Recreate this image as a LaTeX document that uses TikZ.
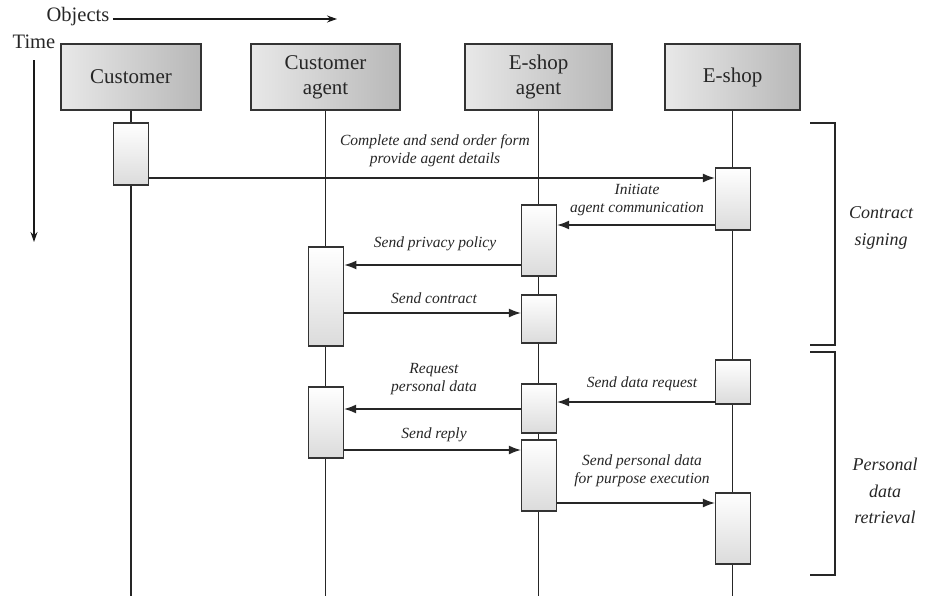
\documentclass[tikz,border=0pt]{standalone}
\usepackage{fontspec}
\setmainfont{Liberation Serif}
\usetikzlibrary{arrows.meta}
\tikzset{
    objbox/.style={
        draw=black!80,
        line width=1.2pt,
        left color=black!9,
        right color=black!28,
        minimum height=66pt,
        align=center,
        text=black!85,
        font=\fontsize{21}{25}\selectfont,
    },
    actbox/.style={
        draw=black!80,
        line width=1.3pt,
        top color=white,
        bottom color=black!14,
        minimum width=35pt,
        inner sep=0,
    },
    lifeline/.style={draw=black!85, line width=1.6pt},
    msg/.style={draw=black!85, line width=1.2pt, -{Latex[length=12pt,width=9pt]}},
    axis/.style={draw=black!90, line width=1.3pt, -{Stealth[length=10pt,width=7pt]}},
    lbl/.style={
        align=center,
        inner sep=1pt,
        text=black!85,
        font=\fontsize{15.5}{18}\selectfont\itshape,
    },
    phase/.style={
        align=center,
        text=black!85,
        font=\fontsize{18}{26.5}\selectfont\itshape,
    },
}

\begin{document}
\begin{tikzpicture}[x=1pt, y=-1pt]
            \useasboundingbox (0,0) rectangle (933,596);

            % axes
            \node[text=black!85, font=\fontsize{20.5}{24}\selectfont] (objects) at (78,17) {Objects};
            \node[text=black!85, font=\fontsize{20.5}{24}\selectfont] (time) at (34,42) {Time};
            \coordinate (objend) at (337,19);
            \coordinate (timeend) at (34,242);
            \draw[axis] (objects.east |- objend) -- (objend);
            \draw[axis] ([yshift=-8pt]time.south) -- (timeend);

            % objects
            \node[objbox, minimum width=140pt] at (131,77) (cust) {Customer};
            \node[objbox, minimum width=149pt] at (325.5,77) (cagent) {Customer\\agent};
            \node[objbox, minimum width=147pt] at (538.5,77) (eagent) {E-shop\\agent};
            \node[objbox, minimum width=135pt] at (732.5,77) (eshop) {E-shop};

            \draw[lifeline] (cust.south) -- (cust.south |- 0,596);
            \draw[lifeline] (cagent.south) -- (cagent.south |- 0,596);
            \draw[lifeline] (eagent.south) -- (eagent.south |- 0,596);
            \draw[lifeline] (eshop.south) -- (eshop.south |- 0,596);

            % activations
            \node[actbox, minimum height=62pt] at (131,154) (cu1) {};
            \node[actbox, minimum height=62pt] at (733,199) (es1) {};
            \node[actbox, minimum height=71pt] at (539,240.5) (ea1) {};
            \node[actbox, minimum height=99pt, line width=1.8pt] at (326,296.5) (ca1) {};
            \node[actbox, minimum height=48pt] at (539,319) (ea2) {};
            \node[actbox, minimum height=44pt] at (733,382) (es2) {};
            \node[actbox, minimum height=49pt] at (539,408.5) (ea3) {};
            \node[actbox, minimum height=71pt] at (326,422.5) (ca2) {};
            \node[actbox, minimum height=71pt] at (539,475.5) (ea4) {};
            \node[actbox, minimum height=71pt] at (733,528.5) (es3) {};

            % messages
            \draw[msg] (cu1.east |- 0,178) -- (es1.west |- 0,178);
            \draw[msg] (es1.west |- 0,225) -- (ea1.east |- 0,225);
            \draw[msg] (ea1.west |- 0,265) -- (ca1.east |- 0,265);
            \draw[msg] (ca1.east |- 0,313) -- (ea2.west |- 0,313);
            \draw[msg] (es2.west |- 0,402) -- (ea3.east |- 0,402);
            \draw[msg] (ea3.west |- 0,409) -- (ca2.east |- 0,409);
            \draw[msg] (ca2.east |- 0,450) -- (ea4.west |- 0,450);
            \draw[msg] (ea4.east |- 0,503) -- (es3.west |- 0,503);

            \node[lbl] at (435,151) (m1) {Complete and send order form\\provide agent details};
            \node[lbl] at (637,200) (m2) {Initiate\\agent communication};
            \node[lbl] at (435,244) (m3) {Send privacy policy};
            \node[lbl] at (434,298) (m4) {Send contract};
            \node[lbl] at (642,384) (m5) {Send data request};
            \node[lbl] at (434,379) (m6) {Request\\personal data};
            \node[lbl] at (434,435) (m7) {Send reply};
            \node[lbl] at (642,471) (m8) {Send personal data\\for purpose execution};

            % phases
            \draw[lifeline] (810,123) -- (835,123) -- (835,345) -- (810,345);
            \draw[lifeline] (810,352) -- (835,352) -- (835,575) -- (810,575);
            \node[phase] at (881,228) (contract) {Contract\\signing};
            \node[phase] at (885,491) (retrieval) {Personal\\data\\retrieval};
        \end{tikzpicture}
\end{document}
